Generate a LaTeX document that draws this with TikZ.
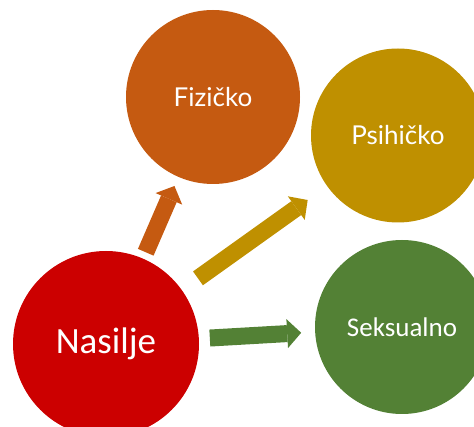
\documentclass[tikz,border=0pt]{standalone}
\usepackage{fontspec}
\setmainfont{Carlito}
\newfontfamily\latofont{Lato}
\usetikzlibrary{arrows.meta}

\definecolor{nasred}{HTML}{CC0000}
\definecolor{fizorange}{HTML}{C55A11}
\definecolor{psigold}{HTML}{BF9000}
\definecolor{seksgreen}{HTML}{538135}

\begin{document}
\begin{tikzpicture}[x=1pt, y=-1pt,
    krug/.style={circle, fill=#1, inner sep=0pt, outer sep=0pt, text=white},
    strelica/.style={draw=#1, line width=17pt,
        -{Triangle[width=29pt, length=14pt, line width=0pt]}}]
    \useasboundingbox (0,0) rectangle (474,427);
    \clip (0,0) rectangle (474,427);

    % Krugovi
    \node[krug=nasred, minimum size=186pt, font=\fontsize{37}{40}\selectfont] (nasilje) at (106,344) {Nasilje};
    \node[krug=fizorange, minimum size=174pt, font=\latofont\fontsize{26}{30}\selectfont] (fizicko) at (213,97) {Fizičko};
    \node[krug=psigold, minimum size=174pt, font=\latofont\fontsize{26}{30}\selectfont] (psihicko) at (398,135.5) {Psihičko};
    \node[krug=seksgreen, minimum size=174pt, font=\fontsize{27}{30}\selectfont] (seksualno) at (402,327) {Seksualno};

    % Strelice
    \draw[strelica=fizorange, shorten <=7pt, shorten >=10pt] (nasilje) -- (fizicko);
    \draw[strelica=psigold, shorten <=20pt, shorten >=24pt] (nasilje) -- (psihicko);
    \draw[strelica=seksgreen, shorten <=11pt, shorten >=14pt] (nasilje) -- (seksualno);
\end{tikzpicture}
\end{document}
